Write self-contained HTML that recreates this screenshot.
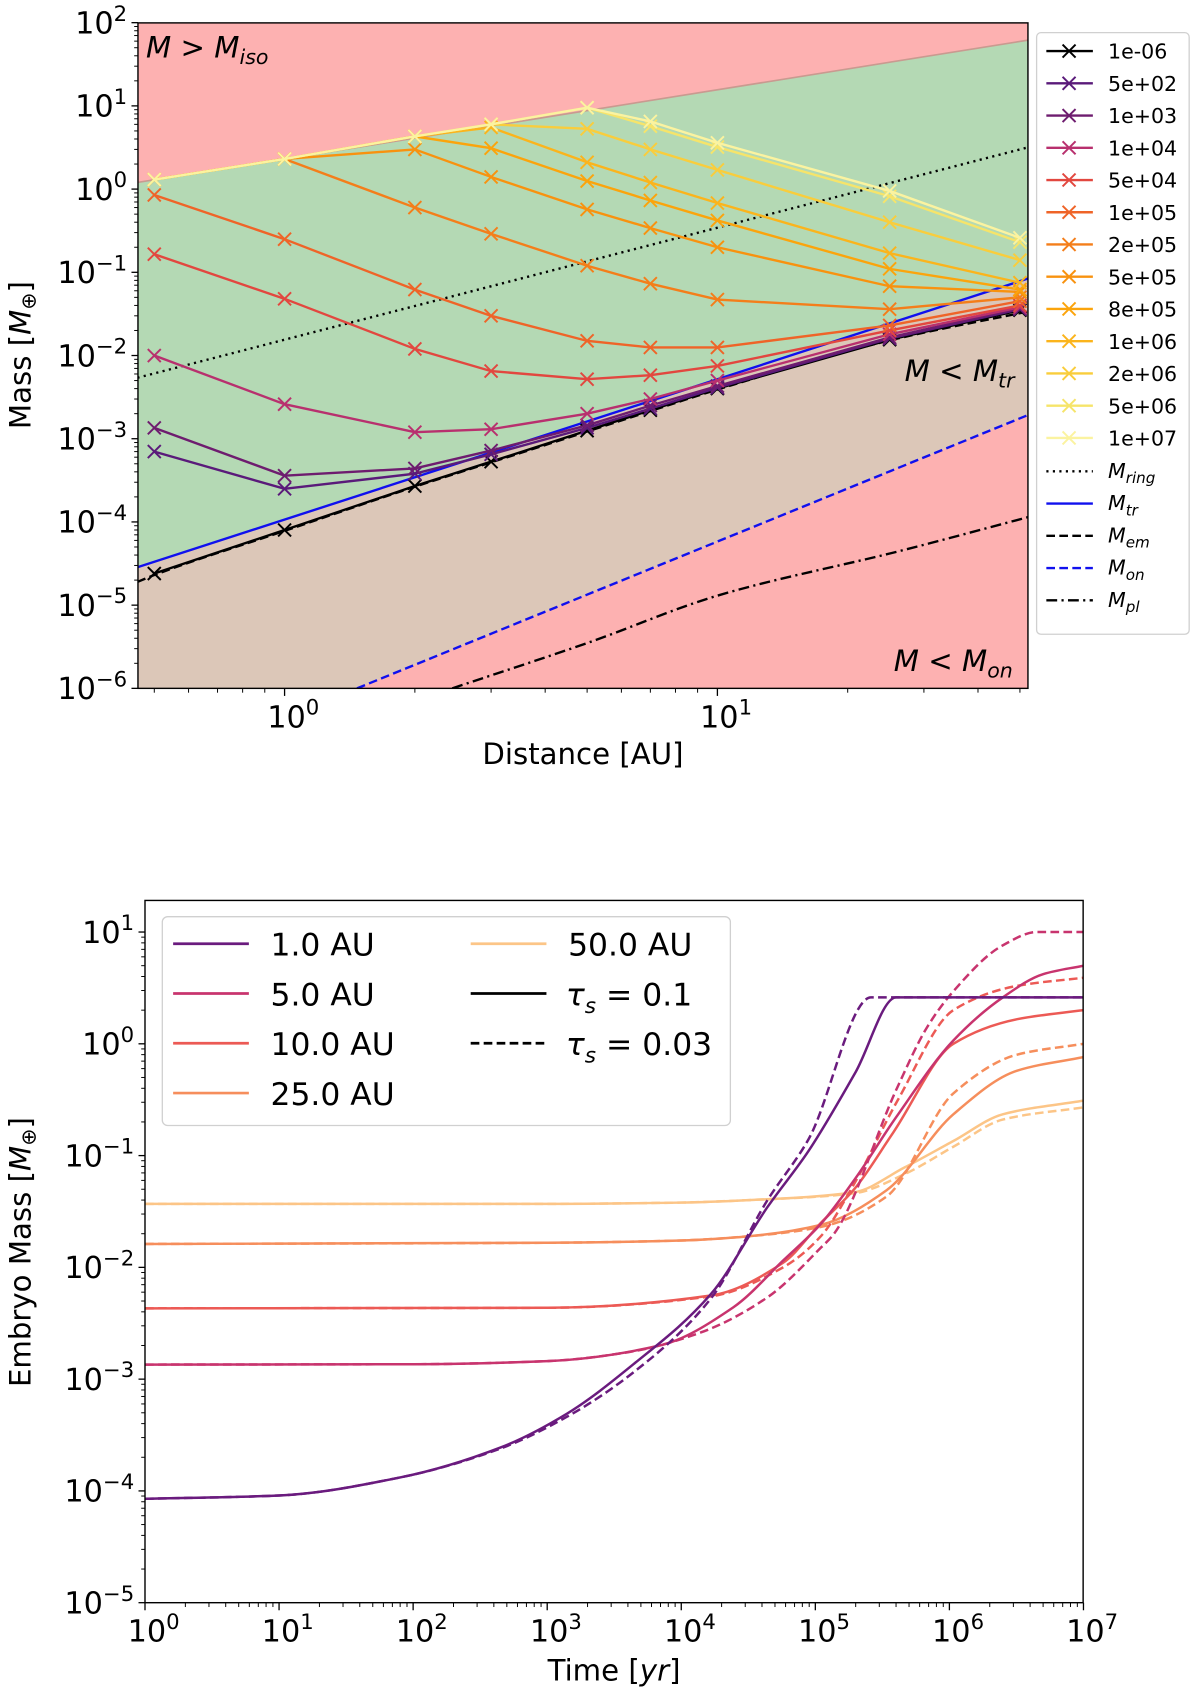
<!DOCTYPE html>
<html><head><meta charset="utf-8">
<style>
html,body{margin:0;padding:0;background:#fff;}
svg{display:block;font-family:"DejaVu Sans","Liberation Sans",sans-serif;}
</style></head>
<body>
<svg id="fig" width="1200" height="1697" viewBox="0 0 1109 1568" xmlns="http://www.w3.org/2000/svg">
<defs>
<clipPath id="clipTop"><rect x="127.5" y="21" width="822.5" height="615"/></clipPath>
<clipPath id="clipBot"><rect x="134" y="832" width="867" height="649"/></clipPath>
</defs>
<g id="topChart"></g>
<g id="botChart"></g>
</svg>
<script>
// ---------- TOP CHART DATA ----------
const distances = [0.5,1,2,3,5,7,10,25,50];
const seriesLabels = ["1e-06","5e+02","1e+03","1e+04","5e+04","1e+05","2e+05","5e+05","8e+05","1e+06","2e+06","5e+06","1e+07"];
const seriesColors = ["#000000","#5a1a7a","#6e1c6f","#b8306e","#e2473f","#ef6428","#f47e1a","#f8920f","#fba40c","#fbb41c","#f9cd3c","#f6e46a","#fbf3a0"];
const s_1em06 = [2.4e-5,8e-5,2.7e-4,5.3e-4,1.25e-3,2.2e-3,4e-3,1.55e-2,3.5e-2];
const s_5e02 = [7e-4,2.5e-4,3.8e-4,6.5e-4,1.35e-3,2.3e-3,4.1e-3,1.6e-2,3.6e-2];
const s_1e03 = [1.35e-3,3.6e-4,4.4e-4,7.2e-4,1.45e-3,2.5e-3,4.3e-3,1.65e-2,3.7e-2];
const s_1e04 = [1e-2,2.6e-3,1.2e-3,1.3e-3,2e-3,3e-3,5e-3,1.8e-2,3.8e-2];
const s_5e04 = [0.165,0.048,0.012,0.0065,0.0052,0.0058,0.0075,0.020,0.040];
const s_1e05 = [0.85,0.25,0.062,0.030,0.015,0.0125,0.0125,0.023,0.045];
const s_2e05 = [1.3,2.3,0.6,0.29,0.12,0.073,0.047,0.036,0.050];
const s_5e05 = [1.3,2.3,3.0,1.4,0.57,0.34,0.20,0.068,0.058];
const s_8e05 = [1.3,2.3,4.3,3.1,1.25,0.73,0.42,0.11,0.062];
const s_1e06 = [1.3,2.3,4.3,5.5,2.1,1.2,0.68,0.17,0.075];
const s_2e06 = [1.3,2.3,4.3,6.0,5.3,3.0,1.7,0.40,0.14];
const s_5e06 = [1.3,2.3,4.3,6.0,9.5,5.7,3.2,0.82,0.23];
const s_1e07 = [1.3,2.3,4.3,6.0,9.5,6.5,3.6,0.95,0.26];
const topSeries = [s_1em06,s_5e02,s_1e03,s_1e04,s_5e04,s_1e05,s_2e05,s_5e05,s_8e05,s_1e06,s_2e06,s_5e06,s_1e07];
const isoX = [0.457,52.5], isoY = [1.2,62];
const trX = [0.457,52.5], trY = [2.85e-5,0.085];
const ringX = [0.457,52.5], ringY = [5.4e-3,3.2];
const onX = [1.47,52.5], onY = [1e-6,1.95e-3];
const plX = [2.44,5,10,26.5,52.5], plY = [1e-6,3.5e-6,1.3e-5,4.5e-5,1.15e-4];
const emX = [0.457,0.5,1,2,3,5,7,10,25,52.5], emY = [1.9e-5,2.3e-5,7.8e-5,2.65e-4,5.2e-4,1.22e-3,2.15e-3,3.9e-3,1.52e-2,3.4e-2];
const topXTicks = [1,10], topXTickLabels = ["0","1"];
const topYTicks = [-6,-5,-4,-3,-2,-1,0,1,2];

// ---------- BOTTOM CHART DATA ----------
const bLabels = ["1.0 AU","5.0 AU","10.0 AU","25.0 AU","50.0 AU"];
const bColors = ["#6a1b7e","#c8346e","#ec5a55","#f68e5c","#fcc587"];
const t1s = [1,10,80,450,1400,4400,1.66e4,4.4e4,8.9e4,2e5,4e5,1e7];
const m1s = [8.5e-5,9.1e-5,1.32e-4,2.45e-4,4.9e-4,1.36e-3,5.75e-3,0.0347,0.11,0.56,2.6,2.6];
const t1d = [1,10,80,450,1400,4400,1.66e4,4.4e4,8.9e4,2.6e5,1e7];
const m1d = [8.5e-5,9.1e-5,1.32e-4,2.4e-4,4.6e-4,1.15e-3,5.25e-3,0.04,0.14,2.6,2.6];
const t5s = [1,100,1000,6900,2.45e4,5.75e4,1.1e5,2e5,4e5,1.07e6,2.5e6,5e6,1e7];
const m5s = [1.35e-3,1.36e-3,1.45e-3,2e-3,4.4e-3,0.0115,0.0245,0.063,0.22,1.07,2.6,4.2,5.0];
const t5d = [1,100,1000,4000,1.38e4,4.4e4,1.1e5,1.38e5,4.1e5,6.8e5,1.07e6,2.5e6,4.5e6,1e7];
const m5d = [1.35e-3,1.36e-3,1.45e-3,1.74e-3,2.6e-3,5.4e-3,0.015,0.02,0.41,1.4,2.95,7.6,10,10];
const t10s = [1,1000,1.66e4,5.75e4,1.1e5,1.95e5,3.8e5,1.07e6,3.2e6,1e7];
const m10s = [4.3e-3,4.35e-3,5.6e-3,0.011,0.025,0.05,0.16,1.0,1.66,2.0];
const t10d = [1,1000,1.66e4,5.75e4,1.1e5,1.95e5,4.1e5,1.07e6,3.2e6,1e7];
const m10d = [4.3e-3,4.35e-3,5.5e-3,0.01,0.019,0.056,0.31,2.0,3.3,3.9];
const t25s = [1,1000,1e4,3.2e4,1.1e5,3.4e5,1.07e6,3.2e6,1e7];
const m25s = [0.0162,0.0166,0.0174,0.019,0.024,0.049,0.234,0.575,0.76];
const t25d = [1,1000,1e4,3.2e4,1.1e5,3.4e5,1.07e6,3.2e6,1e7];
const m25d = [0.0162,0.0166,0.0174,0.019,0.023,0.043,0.36,0.8,1.0];
const t50s = [1,1000,1e4,3.2e4,1.95e5,4.6e5,1.07e6,2.5e6,1e7];
const m50s = [0.037,0.037,0.038,0.04,0.047,0.078,0.135,0.234,0.31];
const t50d = [1,1000,1e4,3.2e4,1.95e5,4.6e5,1.07e6,2.5e6,1e7];
const m50d = [0.037,0.037,0.038,0.04,0.046,0.068,0.12,0.21,0.27];
const botXTicks = [0,1,2,3,4,5,6,7];
const botYTicks = [-5,-4,-3,-2,-1,0,1];

const NS = "http://www.w3.org/2000/svg";
function mk(tag, attrs, parent){const e=document.createElementNS(NS,tag);for(const k in attrs)e.setAttribute(k,attrs[k]);parent.appendChild(e);return e;}

const TL=127.5,TR=950,TT=21,TB=636;
const tx = d => 263 + 400*Math.log10(d);
const ty = m => TB - 76.9*(Math.log10(m)+6);
const BL=134,BR=1001,BT=832,BB=1481;
const bx = t => BL + 123.9*Math.log10(t);
const by = m => BB - 103.3*(Math.log10(m)+5);

function pathFrom(xs,ys,fx,fy){return xs.map((x,i)=>(i?"L":"M")+fx(x).toFixed(2)+","+fy(ys[i]).toFixed(2)).join(" ");}
// monotone cubic (Fritsch-Carlson) in pixel space
function smoothFrom(xs,ys,fx,fy){
  const X=xs.map(fx),Y=ys.map(fy),n=X.length;
  const d=[],m=[];
  for(let i=0;i<n-1;i++)d.push((Y[i+1]-Y[i])/(X[i+1]-X[i]));
  m[0]=d[0];m[n-1]=d[n-2];
  for(let i=1;i<n-1;i++){
    if(d[i-1]*d[i]<=0)m[i]=0;
    else{const w1=2*(X[i+1]-X[i])+(X[i]-X[i-1]),w2=(X[i+1]-X[i])+2*(X[i]-X[i-1]);m[i]=(w1+w2)/(w1/d[i-1]+w2/d[i]);}
  }
  let p="M"+X[0].toFixed(2)+","+Y[0].toFixed(2);
  for(let i=0;i<n-1;i++){
    const h=(X[i+1]-X[i])/3;
    p+=" C"+(X[i]+h).toFixed(2)+","+(Y[i]+m[i]*h).toFixed(2)+" "+(X[i+1]-h).toFixed(2)+","+(Y[i+1]-m[i+1]*h).toFixed(2)+" "+X[i+1].toFixed(2)+","+Y[i+1].toFixed(2);
  }
  return p;
}
function supLabel(parent,x,y,exp,size,anchor){
  const t=mk("text",{x:x,y:y,"font-size":size,"text-anchor":anchor||"end",fill:"#000"},parent);
  t.appendChild(document.createTextNode("10"));
  const s=mk("tspan",{dy:-size*0.42,"font-size":size*0.7},t);
  s.textContent=(exp<0?"\u2212"+(-exp):""+exp);
  return t;
}

// ================= TOP =================
const topG=document.getElementById("topChart");
const tg=mk("g",{"clip-path":"url(#clipTop)"},topG);
const bgRed=mk("rect",{x:TL,y:TT,width:TR-TL,height:TB-TT,fill:"#fdb1b1"},tg);


let brownD="M"+tx(trX[0])+","+ty(trY[0])+" L"+tx(trX[1])+","+ty(trY[1])+" L"+tx(onX[1])+","+ty(onY[1])+" L"+tx(onX[0])+","+ty(onY[0])+" L"+tx(onX[0])+","+(TB+50)+" L"+tx(trX[0])+","+(TB+50)+" Z";
const brown=mk("path",{d:brownD,fill:"#dcc7b8"},tg);


let greenD="M"+tx(isoX[0])+","+ty(isoY[0])+" L"+tx(isoX[1])+","+ty(isoY[1])+" L"+tx(trX[1])+","+ty(trY[1])+" L"+tx(trX[0])+","+ty(trY[0])+" Z";
const green=mk("path",{d:greenD,fill:"#b4d9b4"},tg);


const isoL=mk("path",{d:pathFrom(isoX,isoY,tx,ty),stroke:"#c99a90",fill:"none","stroke-width":1.5},tg);



const refs=[[ringX,ringY,"#000","2,4","m-ring-line"],[onX,onY,"#1010ee","8,4","m-on-line"],[plX,plY,"#000","10,4,2,4","m-pl-line"],[emX,emY,"#000","8,4","m-em-line"],[trX,trY,"#1010ee","","m-tr-line"]];
refs.forEach(r=>{
  const p=mk("path",{d:(r[0].length>2?smoothFrom:pathFrom)(r[0],r[1],tx,ty),stroke:r[2],fill:"none","stroke-width":2.2,"stroke-dasharray":r[3]},tg);
  
  
});
topSeries.forEach((ys,si)=>{
  const g=mk("g",{},tg);
  
  
  mk("path",{d:pathFrom(distances,ys,tx,ty),stroke:seriesColors[si],fill:"none","stroke-width":2.2},g);
  distances.forEach((d,i)=>{
    const cx=tx(d),cy=ty(ys[i]),r=6;
    const m=mk("path",{d:`M${cx-r},${cy-r}L${cx+r},${cy+r}M${cx-r},${cy+r}L${cx+r},${cy-r}`,stroke:seriesColors[si],"stroke-width":1.8},g);
    
    
  });
});
function mathLabel(parent,x,y,sub,op,name){
  const t=mk("text",{x:x,y:y,"font-size":27,"font-style":"italic",fill:"#000"},parent);
  
  
  t.appendChild(document.createTextNode("M "+op+" M"));
  const s=mk("tspan",{dy:6,"font-size":19},t); s.textContent=sub;
}
mathLabel(topG,135,53,"iso",">","label-m-iso");
mathLabel(topG,836,352,"tr","<","label-m-tr");
mathLabel(topG,826,620,"on","<","label-m-on");
const tframe=mk("rect",{x:TL,y:TT,width:TR-TL,height:TB-TT,fill:"none",stroke:"#000","stroke-width":1.3},topG);


topYTicks.forEach(e=>{
  const y=ty(Math.pow(10,e));
  mk("line",{x1:TL-6,x2:TL,y1:y,y2:y,stroke:"#000","stroke-width":1.2},topG);
  const l=supLabel(topG,TL-10,y+10,e,28,"end");
  
  
  if(e<2)for(let k=2;k<10;k++){const yy=ty(k*Math.pow(10,e));mk("line",{x1:TL-3.5,x2:TL,y1:yy,y2:yy,stroke:"#000","stroke-width":0.9},topG);}
});
[0.5,0.6,0.7,0.8,0.9,2,3,4,5,6,7,8,9,20,30,40,50].forEach(v=>{const x=tx(v);mk("line",{x1:x,x2:x,y1:TB,y2:TB+4,stroke:"#000","stroke-width":0.9},topG);});
topXTicks.forEach((v,i)=>{
  const x=tx(v);
  mk("line",{x1:x,x2:x,y1:TB,y2:TB+7,stroke:"#000","stroke-width":1.2},topG);
  const l=supLabel(topG,x+8,TB+36,+topXTickLabels[i],28,"middle");
  
  
});
const txl=mk("text",{x:(TL+TR)/2,y:706,"font-size":27,"text-anchor":"middle"},topG);
txl.textContent="Distance [AU]";


const tyl=mk("text",{x:0,y:0,"font-size":27,"text-anchor":"middle",transform:"translate(28,328) rotate(-90)"},topG);


tyl.appendChild(document.createTextNode("Mass ["));
const ti=mk("tspan",{"font-style":"italic"},tyl);ti.textContent="M";
const ts=mk("tspan",{dy:5,"font-size":19},tyl);ts.textContent="\u2295";
const te=mk("tspan",{dy:-5},tyl);te.textContent="]";

const lg=mk("g",{},topG);


mk("rect",{x:958,y:30,width:141,height:556,rx:4,fill:"#fff",stroke:"#d0d0d0","stroke-width":1.2},lg);
seriesLabels.forEach((lab,i)=>{
  const y=47+i*29.8;
  const e=mk("g",{},lg);
  
  
  mk("line",{x1:967,x2:1010,y1:y,y2:y,stroke:seriesColors[i],"stroke-width":2.2},e);
  mk("path",{d:`M982,${y-6}L994,${y+6}M982,${y+6}L994,${y-6}`,stroke:seriesColors[i],"stroke-width":1.8},e);
  const t=mk("text",{x:1024,y:y+7,"font-size":19},e);t.textContent=lab;
});
const refLeg=[["ring","#000","2,4"],["tr","#1010ee",""],["em","#000","8,4"],["on","#1010ee","8,4"],["pl","#000","10,4,2,4"]];
refLeg.forEach((r,i)=>{
  const y=47+(13+i)*29.8+1;
  const e=mk("g",{},lg);
  
  
  mk("line",{x1:967,x2:1010,y1:y,y2:y,stroke:r[1],"stroke-width":2.2,"stroke-dasharray":r[2]},e);
  const t=mk("text",{x:1024,y:y+6,"font-size":19,"font-style":"italic"},e);
  t.appendChild(document.createTextNode("M"));
  const s=mk("tspan",{dy:5,"font-size":14},t);s.textContent=r[0];
});

// ================= BOTTOM =================
const botG=document.getElementById("botChart");
const bgG=mk("g",{"clip-path":"url(#clipBot)"},botG);
const bSeries=[[t50s,m50s,4,""],[t50d,m50d,4,"8,4"],[t25s,m25s,3,""],[t25d,m25d,3,"8,4"],[t10s,m10s,2,""],[t10d,m10d,2,"8,4"],[t5s,m5s,1,""],[t5d,m5d,1,"8,4"],[t1s,m1s,0,""],[t1d,m1d,0,"8,4"]];
bSeries.forEach(s=>{
  const p=mk("path",{d:smoothFrom(s[0],s[1],bx,by),stroke:bColors[s[2]],fill:"none","stroke-width":2.3,"stroke-dasharray":s[3]},bgG);
  
  
});
const bframe=mk("rect",{x:BL,y:BT,width:BR-BL,height:BB-BT,fill:"none",stroke:"#000","stroke-width":1.3},botG);


botYTicks.forEach(e=>{
  const y=by(Math.pow(10,e));
  mk("line",{x1:BL-6,x2:BL,y1:y,y2:y,stroke:"#000","stroke-width":1.2},botG);
  const l=supLabel(botG,BL-10,y+10,e,28,"end");
  
  
  for(let k=2;k<10;k++){const v=k*Math.pow(10,e);if(Math.log10(v)>1.3)break;const yy=by(v);mk("line",{x1:BL-3.5,x2:BL,y1:yy,y2:yy,stroke:"#000","stroke-width":0.9},botG);}
});
botXTicks.forEach(e=>{
  const x=bx(Math.pow(10,e));
  mk("line",{x1:x,x2:x,y1:BB,y2:BB+7,stroke:"#000","stroke-width":1.2},botG);
  const l=supLabel(botG,x+8,BB+36,e,28,"middle");
  
  
  if(e<7)for(let k=2;k<10;k++){const xx=bx(k*Math.pow(10,e));mk("line",{x1:xx,x2:xx,y1:BB,y2:BB+4,stroke:"#000","stroke-width":0.9},botG);}
});
const bxl=mk("text",{x:(BL+BR)/2,y:1553,"font-size":27,"text-anchor":"middle"},botG);


bxl.appendChild(document.createTextNode("Time ["));
const bxi=mk("tspan",{"font-style":"italic"},bxl);bxi.textContent="yr";
bxl.appendChild(document.createTextNode("]"));
const byl=mk("text",{x:0,y:0,"font-size":27,"text-anchor":"middle",transform:"translate(28,1157) rotate(-90)"},botG);


byl.appendChild(document.createTextNode("Embryo Mass ["));
const bi=mk("tspan",{"font-style":"italic"},byl);bi.textContent="M";
const bs2=mk("tspan",{dy:5,"font-size":19},byl);bs2.textContent="\u2295";
const be=mk("tspan",{dy:-5},byl);be.textContent="]";
const blg=mk("g",{},botG);


mk("rect",{x:150,y:847,width:525,height:193,rx:5,fill:"#fff","fill-opacity":0.85,stroke:"#d0d0d0","stroke-width":1.2},blg);
const legItems=[[160,872,bColors[0],"1.0 AU"],[160,918,bColors[1],"5.0 AU"],[160,964,bColors[2],"10.0 AU"],[160,1010,bColors[3],"25.0 AU"],[435,872,bColors[4],"50.0 AU"]];
legItems.forEach(it=>{
  const e=mk("g",{},blg);
  
  
  mk("line",{x1:it[0],x2:it[0]+70,y1:it[1],y2:it[1],stroke:it[2],"stroke-width":2.5},e);
  const t=mk("text",{x:it[0]+90,y:it[1]+11,"font-size":29},e);t.textContent=it[3];
});
[[918,"","0.1"],[964,"8,4","0.03"]].forEach(r=>{
  const e=mk("g",{},blg);
  
  
  mk("line",{x1:435,x2:505,y1:r[0],y2:r[0],stroke:"#000","stroke-width":2.5,"stroke-dasharray":r[1]},e);
  const t=mk("text",{x:523,y:r[0]+11,"font-size":29},e);
  const i=mk("tspan",{"font-style":"italic"},t);i.textContent="\u03C4";
  const s=mk("tspan",{dy:7,"font-size":20,"font-style":"italic"},t);s.textContent="s";
  const v=mk("tspan",{dy:-7},t);v.textContent=" = "+r[2];
});
</script>
</body></html>
